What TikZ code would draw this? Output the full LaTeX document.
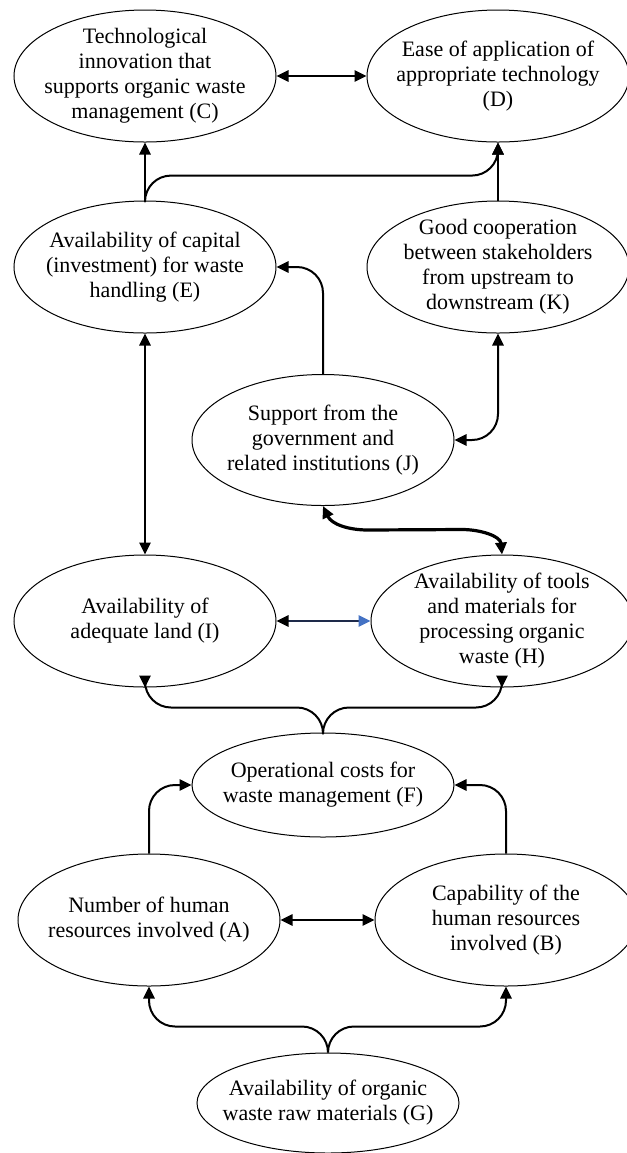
\documentclass[tikz,border=0pt]{standalone}
\usepackage{fontspec}
\setmainfont{Liberation Serif}
\usetikzlibrary{arrows.meta,positioning,shapes.geometric,calc}
\definecolor{linenavy}{RGB}{30,42,74}
\definecolor{tipblue}{RGB}{68,114,196}
\tikzset{
  >={Triangle[length=6pt,width=5.6pt]},
  factor/.style={shape=ellipse, draw=black, line width=0.5pt, align=center, minimum width=131pt, minimum height=66pt, inner xsep=-16pt, inner ysep=-6pt, font=\fontsize{11pt}{12.5pt}\selectfont},
  flow/.style={->, line width=1pt, line join=round, rounded corners=13pt},
  twoway/.style={<->, line width=1pt, rounded corners=13pt},
  heavyflow/.style={<->, line width=1.6pt}
}

\begin{document}
\begin{tikzpicture}[x=0.5pt, y=-0.5pt]
  \useasboundingbox (0,0) rectangle (627,1153);

  \node[factor] (c) at (145,76) {Technological\\innovation that\\supports organic waste\\management (C)};
  \node[factor, right=45pt of c] (d) {Ease of application of\\appropriate technology\\(D)};
  \node[factor, below=29pt of c] (e) {Availability of capital\\(investment) for waste\\handling (E)};
  \node[factor, below=29pt of d] (k) {Good cooperation\\between stakeholders\\from upstream to\\downstream (K)};
  \node[factor, minimum height=65.5pt] (j) at (323,440) {Support from the\\government and\\related institutions (J)};
  \node[factor] (i) at (145,621) {Availability of\\adequate land (I)};
  \node[factor, right=47pt of i] (h) {Availability of tools\\and materials for\\processing organic\\waste (H)};
  \node[factor, minimum height=52pt] (f) at (323,785) {Operational costs for\\waste management (F)};
  \node[factor] (a) at (149,920) {Number of human\\resources involved (A)};
  \node[factor, right=47pt of a] (b) {Capability of the\\human resources\\involved (B)};
  \node[factor, minimum height=50pt] (g) at (328,1103) {Availability of organic\\waste raw materials (G)};

  % top row
  \draw[twoway] (c.east) -- (d.west);
  \coordinate (capsplit) at ($(c.south)!0.57!(e.north)$);
  \draw[flow] (e.north) -- (c.south);
  \draw[flow] (e.north) -- (capsplit) -| (d.south);
  \draw[flow] (k.north) -- (d.south);

  % middle
  \draw[flow] (j.north) |- (e.east);
  \draw[twoway] (k.south) |- (j.east);
  \draw[twoway] (e.south) -- (i.north);
  \coordinate (govleft) at ($(j.south)+(45,24)$);
  \coordinate (govright) at ($(h.north)+(-40,-25)$);
  \draw[heavyflow] (j.south) to[out=-65,in=180] (govleft) -- (govright) to[out=0,in=95] (h.north);
  \draw[line width=1pt, draw=linenavy, {Triangle[length=6pt,width=5.6pt,color=black]}-{Triangle[length=6pt,width=5.6pt,color=tipblue]}] (i.east) -- (h.west);

  % costs
  \coordinate (costsplit) at ($(f.north)+(0,-25)$);
  \draw[flow] (f.north) -- (costsplit) -| (i.south);
  \draw[flow] (f.north) -- (costsplit) -| (h.south);
  \draw[flow] (a.north) |- (f.west);
  \draw[flow] (b.north) |- (f.east);
  \draw[twoway] (a.east) -- (b.west);

  % raw materials
  \coordinate (rawsplit) at ($(g.north)+(0,-26)$);
  \draw[flow] (g.north) -- (rawsplit) -| (a.south);
  \draw[flow] (g.north) -- (rawsplit) -| (b.south);
\end{tikzpicture}
\end{document}
